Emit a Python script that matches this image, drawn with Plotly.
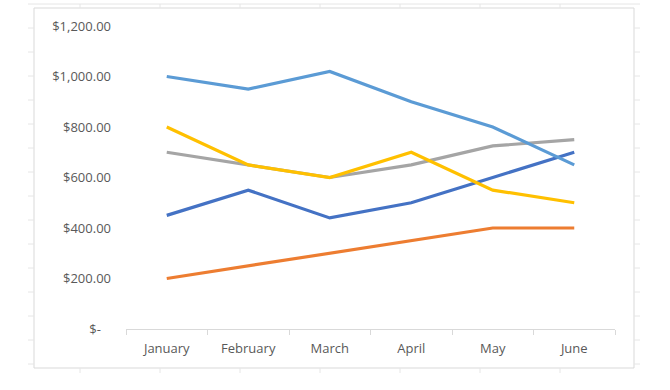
import plotly.graph_objects as go

months = ["January", "February", "March", "April", "May", "June"]
series_a = [450, 550, 440, 500, 600, 700]      # dark blue
series_b = [200, 250, 300, 350, 400, 400]      # orange
series_c = [700, 650, 600, 650, 725, 750]      # gray
series_d = [800, 650, 600, 700, 550, 500]      # yellow
series_e = [1000, 950, 1020, 900, 800, 650]    # light blue

y_tickvals = [0, 200, 400, 600, 800, 1000, 1200]
y_ticktext = ["$-\u00a0\u00a0\u00a0", "$200.00", "$400.00", "$600.00", "$800.00", "$1,000.00", "$1,200.00"]

colors = ["#4472C4", "#ED7D31", "#A5A5A5", "#FFC000", "#5B9BD5"]
names = ["Series 1", "Series 2", "Series 3", "Series 4", "Series 5"]
all_series = [series_a, series_b, series_c, series_d, series_e]

fig = go.Figure()
for name, vals, col in zip(names, all_series, colors):
    fig.add_trace(go.Scatter(x=months, y=vals, mode="lines", name=name,
                             line=dict(color=col, width=3.2), hoverinfo="x+y"))

# plot-area pixel geometry
L, R, T, B = 126, 615, 26, 329
W, H = 670, 390
def px(x):
    return (x - L) / (R - L)
def py(y):
    return (B - y) / (B - T)

shapes = []
grid_col = "#E6E6E6"
# chart area border
shapes.append(dict(type="rect", xref="paper", yref="paper",
                   x0=px(34), x1=px(634), y0=py(368), y1=py(8),
                   line=dict(color="#D9D9D9", width=1), layer="below"))
# spreadsheet cell gridlines peeking around chart
shapes.append(dict(type="line", xref="paper", yref="paper",
                   x0=px(28), x1=px(640), y0=py(4), y1=py(4),
                   line=dict(color=grid_col, width=1)))
for xv in range(80, 640, 80):
    shapes.append(dict(type="line", xref="paper", yref="paper",
                       x0=px(xv), x1=px(xv), y0=py(4), y1=py(8),
                       line=dict(color=grid_col, width=1)))
    shapes.append(dict(type="line", xref="paper", yref="paper",
                       x0=px(xv), x1=px(xv), y0=py(368), y1=py(373),
                       line=dict(color=grid_col, width=1)))
for yv in range(28, 370, 24):
    shapes.append(dict(type="line", xref="paper", yref="paper",
                       x0=px(28), x1=px(34), y0=py(yv), y1=py(yv),
                       line=dict(color=grid_col, width=1)))
    shapes.append(dict(type="line", xref="paper", yref="paper",
                       x0=px(634), x1=px(640), y0=py(yv), y1=py(yv),
                       line=dict(color=grid_col, width=1)))

fig.update_layout(
    width=W, height=H,
    margin=dict(l=L, r=W - R, t=T, b=H - B, pad=0),
    paper_bgcolor="white", plot_bgcolor="white",
    showlegend=False,
    font=dict(family="Open Sans, Noto Sans, sans-serif", size=13, color="#595959"),
    xaxis=dict(type="category", range=[-0.5, 5.5], showgrid=False,
               showline=True, linecolor="#D9D9D9", linewidth=1,
               ticks="outside", tickson="boundaries", ticklen=5,
               tickcolor="#D9D9D9", tickfont=dict(size=13, color="#595959"),
               ticklabelstandoff=7,
               zeroline=False, fixedrange=True),
    yaxis=dict(range=[0, 1200], tickvals=y_tickvals, ticktext=y_ticktext,
               showgrid=False, showline=False, zeroline=False, ticks="",
               ticklabelstandoff=14, tickfont=dict(size=13, color="#595959"),
               fixedrange=True),
    shapes=shapes,
)

fig.write_html("out.html", config={"displayModeBar": False},
               post_script="document.body.style.margin='0';")
